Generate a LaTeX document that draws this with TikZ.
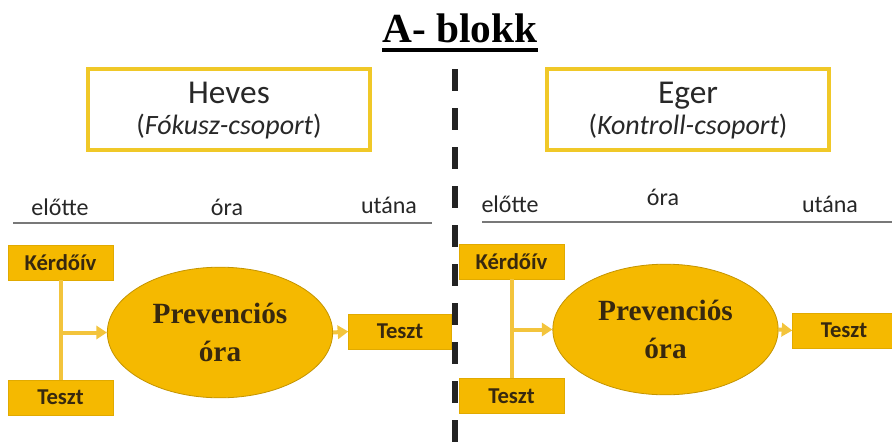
\documentclass[tikz,border=0pt]{standalone}
\usepackage{fontspec}
\setmainfont{Liberation Serif}
\setsansfont{Carlito}
\usetikzlibrary{shapes.geometric,arrows.meta}
\definecolor{gold}{RGB}{245,185,0}
\definecolor{goldline}{RGB}{243,196,60}
\definecolor{frameyel}{RGB}{240,200,40}
\definecolor{txt}{RGB}{40,40,40}
\definecolor{boxtxt}{RGB}{55,40,15}
\definecolor{hdrline}{RGB}{120,120,120}
\definecolor{dashc}{RGB}{35,35,35}
\tikzset{
  groupbox/.style={draw=frameyel,line width=3pt,minimum width=211.5pt,minimum height=60.75pt},
  grouptitle/.style={anchor=base,inner sep=0pt,text=txt,font=\sffamily\fontsize{25}{30}\selectfont},
  groupsub/.style={anchor=base,inner sep=0pt,text=txt,font=\sffamily\fontsize{21}{25}\selectfont},
  smallbox/.style={fill=gold,draw=gold!92!black,line width=0.5pt,minimum width=78.75pt,minimum height=26.25pt,inner sep=0pt,text=boxtxt,font=\sffamily\bfseries\fontsize{17}{20}\selectfont},
  rightbox/.style={smallbox,minimum width=77pt},
  prev/.style={ellipse,fill=gold,draw=gold!80!black,line width=0.6pt,inner sep=0pt,minimum width=169pt,minimum height=98pt,align=center,font=\bfseries\fontsize{22}{28}\selectfont,text=boxtxt},
  hdr/.style={anchor=base,text=black!85,font=\sffamily\fontsize{18}{20}\selectfont,inner sep=0pt},
  hline/.style={draw=hdrline,line width=1.1pt},
  conn/.style={draw=goldline,line width=3pt},
  arr/.style={conn,-{Triangle[width=10pt,length=8pt]}},
}
\begin{document}
\begin{tikzpicture}[x=0.75pt,y=-0.75pt]
\useasboundingbox (0,0) rectangle (892,443);
% title
\node[anchor=base,inner sep=0pt,font=\bfseries\fontsize{31}{36}\selectfont] (title) at (460,42) {A- blokk};
\draw[line width=2.5pt] (title.base west) ++(0,8) coordinate (ul1) -- (title.base east |- ul1) coordinate (ul2);
% dashed divider
\coordinate (dtop) at (455,69);
\coordinate (dbot) at (455,443);
\draw[dashc,line width=4pt,dash pattern=on 16.5pt off 12.75pt] (dtop) -- (dbot);
% group boxes
\node[groupbox] (heves) at (229,109.5) {};
\node[grouptitle] (hevest) at (229,103) {Heves};
\node[groupsub] (hevess) at (229,134) {(\textit{Fókusz-csoport})};
\node[groupbox] (eger) at (688,109.5) {};
\node[grouptitle] (egert) at (688,103) {Eger};
\node[groupsub] (egers) at (688,134) {(\textit{Kontroll-csoport})};
% headers left
\node[hdr] (lpre) at (60,215) {előtte};
\node[hdr] (lora) at (227,215) {óra};
\node[hdr] (lpost) at (389,213) {utána};
\coordinate (lh1) at (13,223);
\coordinate (lh2) at (432,223);
\draw[hline] (lh1) -- (lh2);
% headers right
\node[hdr] (rpre) at (510,212) {előtte};
\node[hdr] (rora) at (663,205) {óra};
\node[hdr] (rpost) at (830,212) {utána};
\coordinate (rh1) at (482,222);
\coordinate (rh2) at (892,222);
\draw[hline] (rh1) -- (rh2);
% left flow
\node[smallbox] (lk) at (60.5,262.5) {Kérdőív};
\node[smallbox] (lt) at (60.5,397.5) {Teszt};
\node[prev] (lell) at (220,332.5) {Prevenciós\\óra};
\node[rightbox] (ltr) at (400,331.5) {Teszt};
\draw[conn] (lk.south) -- (lt.north);
\coordinate (lj) at (lk.south |- lell.west);
\draw[arr] (lj) -- (lell.west);
\draw[arr] (lell.east) -- (ltr.west);
% right flow
\node[smallbox] (rk) at (511.5,261.5) {Kérdőív};
\node[smallbox] (rt) at (511.5,396) {Teszt};
\node[prev] (rell) at (665.5,329.5) {Prevenciós\\óra};
\node[rightbox] (rtr) at (844,330.5) {Teszt};
\draw[conn] (rk.south) -- (rt.north);
\coordinate (rj) at (rk.south |- rell.west);
\draw[arr] (rj) -- (rell.west);
\draw[arr] (rell.east) -- (rtr.west);
\end{tikzpicture}
\end{document}
